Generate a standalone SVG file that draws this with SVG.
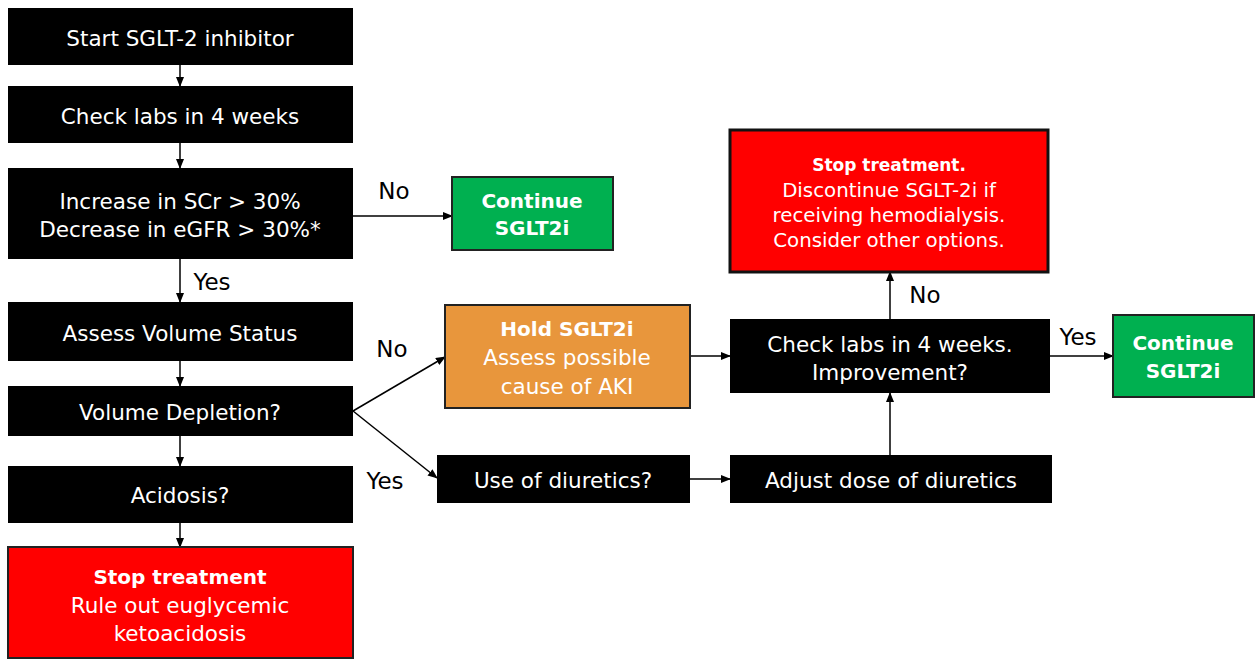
<svg xmlns="http://www.w3.org/2000/svg" width="1256" height="660" viewBox="0 0 1256 660">
<defs>
<marker id="ah" markerWidth="10" markerHeight="8" refX="9" refY="4" orient="auto" markerUnits="userSpaceOnUse">
<path d="M0,0 L10,4 L0,8 Z" fill="#000"/>
</marker>
<style>
text{font-family:"DejaVu Sans","Liberation Sans",sans-serif;font-size:21.5px;fill:#fff;text-anchor:middle}
.b{font-weight:bold;font-size:20px}
.lbl{fill:#000;font-size:23px}
.s{font-size:19.8px}
.sb{font-size:17px;font-weight:bold}
.blk{fill:#000}
.grn{fill:#00B050;stroke:#222;stroke-width:2}
.red{fill:#FF0000;stroke:#222;stroke-width:2}
.red2{fill:#FF0000;stroke:#111;stroke-width:3}
.org{fill:#E8963C;stroke:#222;stroke-width:2}
.c{stroke:#000;stroke-width:1.5;fill:none;marker-end:url(#ah)}
</style>
</defs>
<rect width="1256" height="660" fill="#fff"/>
<g id="connectors">
<line class="c" x1="180" y1="65" x2="180" y2="86"/>
<line class="c" x1="180" y1="143" x2="180" y2="168"/>
<line class="c" x1="353" y1="216" x2="452" y2="216"/>
<line class="c" x1="180" y1="259" x2="180" y2="302"/>
<line class="c" x1="180" y1="361" x2="180" y2="386"/>
<line class="c" x1="180" y1="436" x2="180" y2="466"/>
<line class="c" x1="180" y1="523" x2="180" y2="547"/>
<line class="c" x1="353" y1="411" x2="445" y2="357"/>
<line class="c" x1="353" y1="411" x2="437" y2="478"/>
<line class="c" x1="690" y1="356" x2="730" y2="356"/>
<line class="c" x1="690" y1="479" x2="730" y2="479"/>
<line class="c" x1="890" y1="455" x2="890" y2="393"/>
<line class="c" x1="890" y1="319" x2="890" y2="272"/>
<line class="c" x1="1050" y1="356" x2="1113" y2="356"/>
<text class="lbl" x="394" y="199">No</text>
<text class="lbl" x="212" y="290">Yes</text>
<text class="lbl" x="392" y="357">No</text>
<text class="lbl" x="385" y="489">Yes</text>
<text class="lbl" x="925" y="303">No</text>
<text class="lbl" x="1078" y="345">Yes</text>
</g>
<g id="start"><rect class="blk" x="8" y="8" width="345" height="57"/><text x="180" y="46">Start SGLT-2 inhibitor</text></g>
<g id="check1"><rect class="blk" x="8" y="86" width="345" height="57"/><text x="180" y="124">Check labs in 4 weeks</text></g>
<g id="increase"><rect class="blk" x="8" y="168" width="345" height="91"/><text x="180" y="209">Increase in SCr &gt; 30%</text><text x="180" y="237">Decrease in eGFR &gt; 30%*</text></g>
<g id="continue1"><rect class="grn" x="452" y="177" width="161" height="73"/><text class="b" x="532" y="208">Continue</text><text class="b" x="532" y="235">SGLT2i</text></g>
<g id="volume"><rect class="blk" x="8" y="302" width="345" height="59"/><text x="180" y="341">Assess Volume Status</text></g>
<g id="depletion"><rect class="blk" x="8" y="386" width="345" height="50"/><text x="180" y="420">Volume Depletion?</text></g>
<g id="acidosis"><rect class="blk" x="8" y="466" width="345" height="57"/><text x="180" y="503">Acidosis?</text></g>
<g id="stop1"><rect class="red" x="8" y="547" width="345" height="111"/><text class="b" x="180" y="584">Stop treatment</text><text x="180" y="613">Rule out euglycemic</text><text x="180" y="641">ketoacidosis</text></g>
<g id="hold"><rect class="org" x="445" y="305" width="245" height="103"/><text class="b" x="567" y="336">Hold SGLT2i</text><text x="567" y="365">Assess possible</text><text x="567" y="394">cause of AKI</text></g>
<g id="diuretics"><rect class="blk" x="437" y="455" width="253" height="48"/><text x="563" y="488">Use of diuretics?</text></g>
<g id="adjust"><rect class="blk" x="730" y="455" width="322" height="48"/><text x="891" y="488">Adjust dose of diuretics</text></g>
<g id="check2"><rect class="blk" x="730" y="319" width="320" height="74"/><text x="890" y="352">Check labs in 4 weeks.</text><text x="890" y="380">Improvement?</text></g>
<g id="stop2"><rect class="red2" x="730" y="130" width="318" height="142"/><text class="sb" x="889" y="171">Stop treatment.</text><text class="s" x="889" y="197">Discontinue SGLT-2i if</text><text class="s" x="889" y="222">receiving hemodialysis.</text><text class="s" x="889" y="247">Consider other options.</text></g>
<g id="continue2"><rect class="grn" x="1113" y="315" width="141" height="82"/><text class="b" x="1183" y="350">Continue</text><text class="b" x="1183" y="378">SGLT2i</text></g>
</svg>
